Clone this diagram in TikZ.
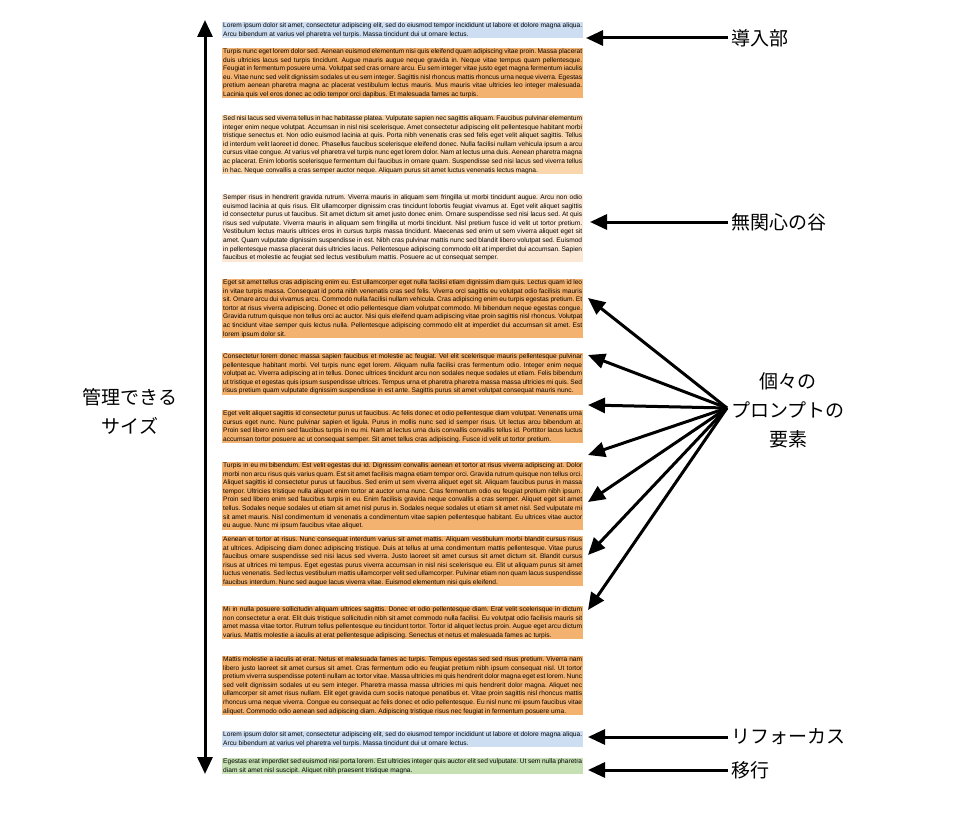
\documentclass[tikz,border=0pt]{standalone}
\usepackage{fontspec}
\setmainfont{Liberation Sans}
\newfontfamily\jp{Noto Sans CJK JP}
\usetikzlibrary{arrows.meta}
\definecolor{org}{RGB}{244,178,112}
\definecolor{lorg}{RGB}{250,214,172}
\definecolor{vlorg}{RGB}{252,232,212}
\definecolor{blu}{RGB}{206,222,242}
\definecolor{grn}{RGB}{198,224,180}
\frenchspacing
\tikzset{
 para/.style={anchor=north west,inner xsep=1pt,inner ysep=0.5pt,text width=359pt,align=justify,font=\fontsize{6.6}{8.6}\selectfont\frenchspacing,fill=#1},
 lab/.style={font=\jp\fontsize{19}{29}\selectfont,align=center},
 arr/.style={line width=3pt,-{Triangle[length=17pt,width=15pt]}},
}
\begin{document}
\begin{tikzpicture}[x=1pt,y=-1pt]
\useasboundingbox (0,0) rectangle (962,816);
\node[para=blu] (b1) at (222,22) {Lorem ipsum dolor sit amet, consectetur adipiscing elit, sed do eiusmod tempor incididunt ut labore et dolore magna aliqua. Arcu bibendum at varius vel pharetra vel turpis. Massa tincidunt dui ut ornare lectus.};
\node[para=org] (b2) at (222,48) {Turpis nunc eget lorem dolor sed. Aenean euismod elementum nisi quis eleifend quam adipiscing vitae proin. Massa placerat duis ultricies lacus sed turpis tincidunt. Augue mauris augue neque gravida in. Neque vitae tempus quam pellentesque. Feugiat in fermentum posuere urna. Volutpat sed cras ornare arcu. Eu sem integer vitae justo eget magna fermentum iaculis eu. Vitae nunc sed velit dignissim sodales ut eu sem integer. Sagittis nisl rhoncus mattis rhoncus urna neque viverra. Egestas pretium aenean pharetra magna ac placerat vestibulum lectus mauris. Mus mauris vitae ultricies leo integer malesuada. Lacinia quis vel eros donec ac odio tempor orci dapibus. Et malesuada fames ac turpis.};
\node[para=lorg] (b3) at (222,115) {Sed nisi lacus sed viverra tellus in hac habitasse platea. Vulputate sapien nec sagittis aliquam. Faucibus pulvinar elementum integer enim neque volutpat. Accumsan in nisl nisi scelerisque. Amet consectetur adipiscing elit pellentesque habitant morbi tristique senectus et. Non odio euismod lacinia at quis. Porta nibh venenatis cras sed felis eget velit aliquet sagittis. Tellus id interdum velit laoreet id donec. Phasellus faucibus scelerisque eleifend donec. Nulla facilisi nullam vehicula ipsum a arcu cursus vitae congue. At varius vel pharetra vel turpis nunc eget lorem dolor. Nam at lectus urna duis. Aenean pharetra magna ac placerat. Enim lobortis scelerisque fermentum dui faucibus in ornare quam. Suspendisse sed nisi lacus sed viverra tellus in hac. Neque convallis a cras semper auctor neque. Aliquam purus sit amet luctus venenatis lectus magna.};
\node[para=vlorg] (b4) at (222,194) {Semper risus in hendrerit gravida rutrum. Viverra mauris in aliquam sem fringilla ut morbi tincidunt augue. Arcu non odio euismod lacinia at quis risus. Elit ullamcorper dignissim cras tincidunt lobortis feugiat vivamus at. Eget velit aliquet sagittis id consectetur purus ut faucibus. Sit amet dictum sit amet justo donec enim. Ornare suspendisse sed nisi lacus sed. At quis risus sed vulputate. Viverra mauris in aliquam sem fringilla ut morbi tincidunt. Nisl pretium fusce id velit ut tortor pretium. Vestibulum lectus mauris ultrices eros in cursus turpis massa tincidunt. Maecenas sed enim ut sem viverra aliquet eget sit amet. Quam vulputate dignissim suspendisse in est. Nibh cras pulvinar mattis nunc sed blandit libero volutpat sed. Euismod in pellentesque massa placerat duis ultricies lacus. Pellentesque adipiscing commodo elit at imperdiet dui accumsan. Sapien faucibus et molestie ac feugiat sed lectus vestibulum mattis. Posuere ac ut consequat semper.};
\node[para=org] (b5) at (222,279) {Eget sit amet tellus cras adipiscing enim eu. Est ullamcorper eget nulla facilisi etiam dignissim diam quis. Lectus quam id leo in vitae turpis massa. Consequat id porta nibh venenatis cras sed felis. Viverra orci sagittis eu volutpat odio facilisis mauris sit. Ornare arcu dui vivamus arcu. Commodo nulla facilisi nullam vehicula. Cras adipiscing enim eu turpis egestas pretium. Et tortor at risus viverra adipiscing. Donec et odio pellentesque diam volutpat commodo. Mi bibendum neque egestas congue. Gravida rutrum quisque non tellus orci ac auctor. Nisi quis eleifend quam adipiscing vitae proin sagittis nisl rhoncus. Volutpat ac tincidunt vitae semper quis lectus nulla. Pellentesque adipiscing commodo elit at imperdiet dui accumsan sit amet. Est lorem ipsum dolor sit.};
\node[para=org] (b6) at (222,353) {Consectetur lorem donec massa sapien faucibus et molestie ac feugiat. Vel elit scelerisque mauris pellentesque pulvinar pellentesque habitant morbi. Vel turpis nunc eget lorem. Aliquam nulla facilisi cras fermentum odio. Integer enim neque volutpat ac. Viverra adipiscing at in tellus. Donec ultrices tincidunt arcu non sodales neque sodales ut etiam. Felis bibendum ut tristique et egestas quis ipsum suspendisse ultrices. Tempus urna et pharetra pharetra massa massa ultricies mi quis. Sed risus pretium quam vulputate dignissim suspendisse in est ante. Sagittis purus sit amet volutpat consequat mauris nunc.};
\node[para=org] (b7) at (222,410) {Eget velit aliquet sagittis id consectetur purus ut faucibus. Ac felis donec et odio pellentesque diam volutpat. Venenatis urna cursus eget nunc. Nunc pulvinar sapien et ligula. Purus in mollis nunc sed id semper risus. Ut lectus arcu bibendum at. Proin sed libero enim sed faucibus turpis in eu mi. Nam at lectus urna duis convallis convallis tellus id. Porttitor lacus luctus accumsan tortor posuere ac ut consequat semper. Sit amet tellus cras adipiscing. Fusce id velit ut tortor pretium.};
\node[para=org] (b8) at (222,462) {Turpis in eu mi bibendum. Est velit egestas dui id. Dignissim convallis aenean et tortor at risus viverra adipiscing at. Dolor morbi non arcu risus quis varius quam. Est sit amet facilisis magna etiam tempor orci. Gravida rutrum quisque non tellus orci. Aliquet sagittis id consectetur purus ut faucibus. Sed enim ut sem viverra aliquet eget sit. Aliquam faucibus purus in massa tempor. Ultricies tristique nulla aliquet enim tortor at auctor urna nunc. Cras fermentum odio eu feugiat pretium nibh ipsum. Proin sed libero enim sed faucibus turpis in eu. Enim facilisis gravida neque convallis a cras semper. Aliquet eget sit amet tellus. Sodales neque sodales ut etiam sit amet nisl purus in. Sodales neque sodales ut etiam sit amet nisl. Sed vulputate mi sit amet mauris. Nisl condimentum id venenatis a condimentum vitae sapien pellentesque habitant. Eu ultrices vitae auctor eu augue. Nunc mi ipsum faucibus vitae aliquet.};
\node[para=org] (b9) at (222,536) {Aenean et tortor at risus. Nunc consequat interdum varius sit amet mattis. Aliquam vestibulum morbi blandit cursus risus at ultrices. Adipiscing diam donec adipiscing tristique. Duis at tellus at urna condimentum mattis pellentesque. Vitae purus faucibus ornare suspendisse sed nisi lacus sed viverra. Justo laoreet sit amet cursus sit amet dictum sit. Blandit cursus risus at ultrices mi tempus. Eget egestas purus viverra accumsan in nisl nisi scelerisque eu. Elit ut aliquam purus sit amet luctus venenatis. Sed lectus vestibulum mattis ullamcorper velit sed ullamcorper. Pulvinar etiam non quam lacus suspendisse faucibus interdum. Nunc sed augue lacus viverra vitae. Euismod elementum nisi quis eleifend.};
\node[para=org] (b10) at (222,606) {Mi in nulla posuere sollicitudin aliquam ultrices sagittis. Donec et odio pellentesque diam. Erat velit scelerisque in dictum non consectetur a erat. Elit duis tristique sollicitudin nibh sit amet commodo nulla facilisi. Eu volutpat odio facilisis mauris sit amet massa vitae tortor. Rutrum tellus pellentesque eu tincidunt tortor. Tortor id aliquet lectus proin. Augue eget arcu dictum varius. Mattis molestie a iaculis at erat pellentesque adipiscing. Senectus et netus et malesuada fames ac turpis.};
\node[para=org] (b11) at (222,656) {Mattis molestie a iaculis at erat. Netus et malesuada fames ac turpis. Tempus egestas sed sed risus pretium. Viverra nam libero justo laoreet sit amet cursus sit amet. Cras fermentum odio eu feugiat pretium nibh ipsum consequat nisl. Ut tortor pretium viverra suspendisse potenti nullam ac tortor vitae. Massa ultricies mi quis hendrerit dolor magna eget est lorem. Nunc sed velit dignissim sodales ut eu sem integer. Pharetra massa massa ultricies mi quis hendrerit dolor magna. Aliquet nec ullamcorper sit amet risus nullam. Elit eget gravida cum sociis natoque penatibus et. Vitae proin sagittis nisl rhoncus mattis rhoncus urna neque viverra. Congue eu consequat ac felis donec et odio pellentesque. Eu nisl nunc mi ipsum faucibus vitae aliquet. Commodo odio aenean sed adipiscing diam. Adipiscing tristique risus nec feugiat in fermentum posuere urna.};
\node[para=blu] (b12) at (222,731) {Lorem ipsum dolor sit amet, consectetur adipiscing elit, sed do eiusmod tempor incididunt ut labore et dolore magna aliqua. Arcu bibendum at varius vel pharetra vel turpis. Massa tincidunt dui ut ornare lectus.};
\node[para=grn] (b13) at (222,758) {Egestas erat imperdiet sed euismod nisi porta lorem. Est ultricies integer quis auctor elit sed vulputate. Ut sem nulla pharetra diam sit amet nisl suscipit. Aliquet nibh praesent tristique magna.};
% left arrow
\coordinate (lt) at (205,20);
\coordinate (lb) at (205,774);
\draw[line width=3pt,{Triangle[length=17pt,width=15pt]}-{Triangle[length=17pt,width=15pt]}] (lt) -- (lb);
\node[lab] (size) at (130,411) {管理できる\\サイズ};
% right labels
\node[lab,anchor=west] (l1) at (728,38) {導入部};
\node[lab,anchor=west] (l2) at (728,222) {無関心の谷};
\node[lab] (l3) at (788,410) {個々の\\プロンプトの\\要素};
\node[lab,anchor=west] (l4) at (728,737) {リフォーカス};
\node[lab,anchor=west] (l5) at (728,770) {移行};
\coordinate (t1) at (586,38);
\coordinate (t2) at (590,222);
\coordinate (t4) at (588,737);
\coordinate (t5) at (588,770);
\draw[arr] (l1.west) -- (t1);
\draw[arr] (l2.west) -- (t2);
\draw[arr] (l4.west) -- (t4);
\draw[arr] (l5.west) -- (t5);
\coordinate (hub) at (727,408);
\foreach \y in {298,355,405,455,502,555,610}{
  \draw[arr] (hub) -- (588,\y);
}
\end{tikzpicture}
\end{document}
